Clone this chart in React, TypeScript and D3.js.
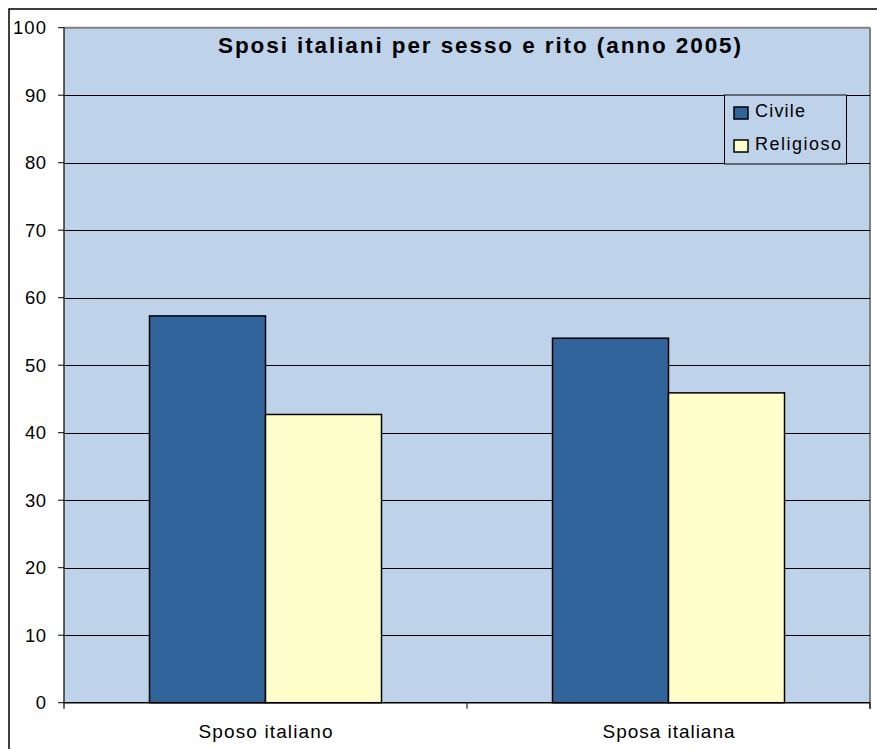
import React from "react";
import * as d3 from "d3";

const categories = ["Sposo italiano", "Sposa italiana"];
const seriesNames = ["Civile", "Religioso"];
const civileValues = [57.3, 54.0];
const religiosoValues = [42.7, 45.9];
const yTicks = [0, 10, 20, 30, 40, 50, 60, 70, 80, 90, 100];
const title = "Sposi italiani per sesso e rito (anno 2005)";

const W = 877;
const H = 749;
const plot = { left: 64, right: 870, top: 27.7, bottom: 702.7 };
const colors: Record<string, string> = { Civile: "#31649A", Religioso: "#FFFFCC" };
const FONT = "Arial, 'Liberation Sans', sans-serif";
const legendWidths: Record<string, number> = { Civile: 50, Religioso: 86 };
const categoryWidths = [134, 132];

export default function App() {
  const x0 = d3.scaleBand<string>().domain(categories).range([plot.left, plot.right]).paddingInner(0).paddingOuter(0);
  const x1 = d3.scaleBand<string>().domain(seriesNames).range([0, x0.bandwidth()]).paddingInner(0).paddingOuter(0.737);
  const y = d3.scaleLinear().domain([0, 100]).range([plot.bottom, plot.top]);
  const values: Record<string, number[]> = { Civile: civileValues, Religioso: religiosoValues };
  const bounds = [plot.left, ...categories.map((c) => (x0(c) as number) + x0.bandwidth())];

  return (
    <svg width={W} height={H} style={{ position: "absolute", left: 0, top: 0, background: "#fff" }}>
      <rect x={9} y={9} width={W + 50} height={H + 50} fill="#fff" stroke="#000" strokeWidth={1.5} />
      <rect x={plot.left} y={plot.top} width={plot.right - plot.left} height={plot.bottom - plot.top} fill="#BED3EA" />
      <line x1={plot.left} x2={plot.right} y1={plot.top} y2={plot.top} stroke="#808080" strokeWidth={2} />
      <line x1={plot.right} x2={plot.right} y1={plot.top} y2={plot.bottom + 6} stroke="#808080" strokeWidth={2} />
      {yTicks.filter((t) => t !== 0 && t !== 100).map((t) => (
        <line key={t} x1={plot.left} x2={plot.right} y1={Math.round(y(t)) + 0.5} y2={Math.round(y(t)) + 0.5} stroke="#000" strokeWidth={1} />
      ))}
      {categories.map((c, i) => (
        <g key={c}>
          {seriesNames.map((s) => (
            <rect
              key={s}
              x={(x0(c) as number) + (x1(s) as number)}
              y={y(values[s][i])}
              width={x1.bandwidth()}
              height={y(0) - y(values[s][i])}
              fill={colors[s]}
              stroke="#000"
              strokeWidth={1.5}
            />
          ))}
        </g>
      ))}
      <line x1={plot.left} x2={plot.left} y1={plot.top} y2={plot.bottom + 6} stroke="#000" strokeWidth={1.2} />
      <line x1={plot.left} x2={plot.right} y1={plot.bottom} y2={plot.bottom} stroke="#000" strokeWidth={1.5} />
      {yTicks.map((t) => {
        const n = String(t).length;
        return (
          <g key={t}>
            <line x1={plot.left - 6} x2={plot.left} y1={y(t)} y2={y(t)} stroke="#000" strokeWidth={1} />
            <text
              x={46}
              y={y(t)}
              dy="0.36em"
              textAnchor="end"
              fontFamily={FONT}
              fontSize={18.5}
              fill="#000"
              {...(n > 1 ? { textLength: n * 11 - (n === 2 ? 1 : 0), lengthAdjust: "spacing" } : {})}
            >
              {t}
            </text>
          </g>
        );
      })}
      {bounds.slice(1).map((b, i) => (
        <line key={i} x1={b} x2={b} y1={plot.bottom} y2={plot.bottom + 6} stroke="#000" strokeWidth={1} />
      ))}
      {categories.map((c, i) => (
        <text
          key={c}
          x={(x0(c) as number) + x0.bandwidth() / 2 - categoryWidths[i] / 2}
          y={738}
          fontFamily={FONT}
          fontSize={19}
          textLength={categoryWidths[i]}
          lengthAdjust="spacing"
          fill="#000"
        >
          {c}
        </text>
      ))}
      <text x={218} y={53} fontFamily={FONT} fontSize={22.5} fontWeight="bold" textLength={523} lengthAdjust="spacing" fill="#000">
        {title}
      </text>
      <g>
        <rect x={724.5} y={95} width={122} height={69} fill="#BED3EA" stroke="#000" strokeWidth={1} />
        {seriesNames.map((s, i) => (
          <g key={s} transform={`translate(0, ${i * 33})`}>
            <rect x={734} y={107} width={14} height={12} fill={colors[s]} stroke="#000" strokeWidth={1.5} />
            <text x={755} y={117} fontFamily={FONT} fontSize={18} textLength={legendWidths[s]} lengthAdjust="spacing" fill="#000">
              {s}
            </text>
          </g>
        ))}
      </g>
    </svg>
  );
}
